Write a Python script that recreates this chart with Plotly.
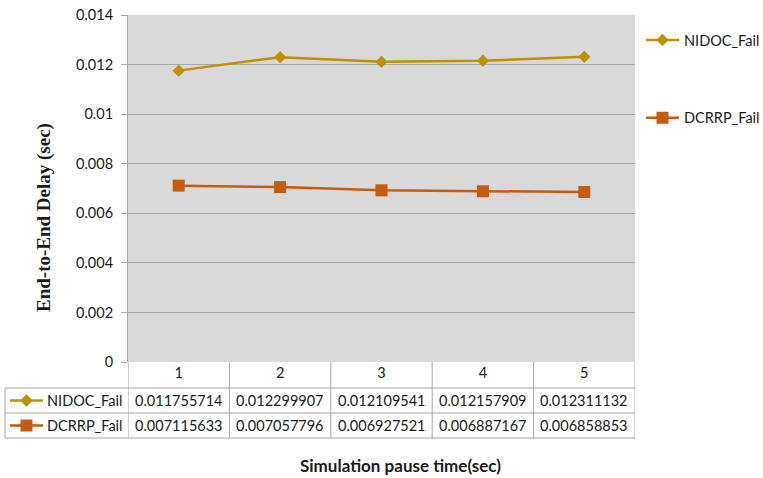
import plotly.graph_objects as go

# Simulation pause time categories and measured end-to-end delay (sec)
pause_times = ["1", "2", "3", "4", "5"]
nidoc_fail = [0.011755714, 0.012299907, 0.012109541, 0.012157909, 0.012311132]
dcrrp_fail = [0.007115633, 0.007057796, 0.006927521, 0.006887167, 0.006858853]
y_tick_vals = [0, 0.002, 0.004, 0.006, 0.008, 0.01, 0.012, 0.014]
y_tick_text = ["0", "0.002", "0.004", "0.006", "0.008", "0.01", "0.012", "0.014"]

W, H = 763, 478
L, R, T, B = 128, 635, 15, 362          # plot area in pixels
PW, PH = R - L, B - T

GOLD = "#BF9000"
ORANGE = "#C55A11"
GRID = "#A6A6A6"
TEXT = "#1a1a1a"
FONT = "Lato"


def px(x):
    return (x - L) / PW


def py(y):
    return (B - y) / PH


series = [
    ("NIDOC_Fail", nidoc_fail, GOLD, "diamond", 9.5),
    ("DCRRP_Fail", dcrrp_fail, ORANGE, "square", 12),
]

fig = go.Figure()
for i, (name, vals, color, sym, size) in enumerate(series):
    fig.add_trace(go.Scatter(
        x=pause_times, y=vals, name=name, mode="lines+markers",
        line=dict(color=color, width=2.5),
        marker=dict(symbol=sym, size=size, color=color),
        legendgroup=f"g{i}",
    ))

shapes = []
annotations = []

# data table below the plot
row_top, row_mid, row_bot = 388, 413, 438
tab_left = 5
line = dict(color=GRID, width=1)
for yy in (row_top, row_mid, row_bot):
    shapes.append(dict(type="line", xref="paper", yref="paper",
                       x0=px(tab_left), x1=px(R), y0=py(yy), y1=py(yy), line=line))
shapes.append(dict(type="line", xref="paper", yref="paper",
                   x0=px(tab_left), x1=px(tab_left), y0=py(row_top), y1=py(row_bot), line=line))
# column boundaries follow the category scale
for k in range(len(pause_times) + 1):
    shapes.append(dict(type="line", xref="x", yref="paper",
                       x0=k - 0.5, x1=k - 0.5, y0=0, y1=py(row_bot), line=line))

row_centers = [(row_top + row_mid) / 2, (row_mid + row_bot) / 2]
for (name, vals, color, sym, size), yc in zip(series, row_centers):
    # series key: short line with its marker
    shapes.append(dict(type="line", xref="paper", yref="paper",
                       x0=px(10), x1=px(43), y0=py(yc), y1=py(yc),
                       line=dict(color=color, width=2.5)))
    cx = 26.5
    if sym == "diamond":
        d = 6.2
        path = (f"M{px(cx - d)},{py(yc)} L{px(cx)},{py(yc - d)} "
                f"L{px(cx + d)},{py(yc)} L{px(cx)},{py(yc + d)} Z")
    else:
        d = 6
        path = (f"M{px(cx - d)},{py(yc - d)} L{px(cx + d)},{py(yc - d)} "
                f"L{px(cx + d)},{py(yc + d)} L{px(cx - d)},{py(yc + d)} Z")
    shapes.append(dict(type="path", xref="paper", yref="paper", path=path,
                       fillcolor=color, line=dict(color=color, width=0)))
    annotations.append(dict(x=px(45), y=py(yc), xref="paper", yref="paper",
                            text=name, showarrow=False, xanchor="left", yanchor="middle",
                            font=dict(family=FONT, size=14.5, color=TEXT)))
    # category axis: cell positions are the category indices
    for idx, v in enumerate(vals):
        annotations.append(dict(x=idx, y=py(yc), xref="x", yref="paper",
                                text=f"{v:.9f}", showarrow=False,
                                xanchor="center", yanchor="middle",
                                font=dict(family=FONT, size=14.5, color=TEXT)))

# axis titles
annotations.append(dict(x=px(400), y=py(465), xref="paper", yref="paper",
                        text="<b>Simulation pause time(sec)</b>", showarrow=False,
                        xanchor="center", yanchor="middle",
                        font=dict(family=FONT, size=17, color=TEXT)))
annotations.append(dict(x=px(44), y=py(218), xref="paper", yref="paper",
                        text="<b>End-to-End Delay (sec)</b>", showarrow=False,
                        textangle=-90, xanchor="center", yanchor="middle",
                        font=dict(family="Liberation Serif", size=19, color=TEXT)))

fig.update_layout(
    width=W, height=H,
    margin=dict(l=L, r=W - R, t=T, b=H - B, autoexpand=False),
    paper_bgcolor="white",
    plot_bgcolor="#D9D9D9",
    font=dict(family=FONT, size=14.5, color=TEXT),
    shapes=shapes,
    annotations=annotations,
    showlegend=True,
    legend=dict(x=px(641), y=py(24), xanchor="left", yanchor="top",
                traceorder="grouped", tracegroupgap=56, itemwidth=33,
                bgcolor="rgba(0,0,0,0)", borderwidth=0,
                font=dict(family=FONT, size=14.5, color=TEXT)),
)
fig.update_xaxes(type="category", range=[-0.5, len(pause_times) - 0.5],
                 showgrid=False, zeroline=False, showline=False, ticks="",
                 tickfont=dict(family=FONT, size=14.5, color=TEXT))
fig.update_yaxes(range=[0, 0.014], tickvals=y_tick_vals, ticktext=y_tick_text,
                 showgrid=True, gridcolor=GRID, gridwidth=1,
                 zeroline=False, showline=True, linecolor=GRID, linewidth=1,
                 ticks="outside", ticklen=6, tickcolor=GRID, ticklabelstandoff=5,
                 tickfont=dict(family=FONT, size=14.5, color=TEXT))

fig.write_html("out.html")
